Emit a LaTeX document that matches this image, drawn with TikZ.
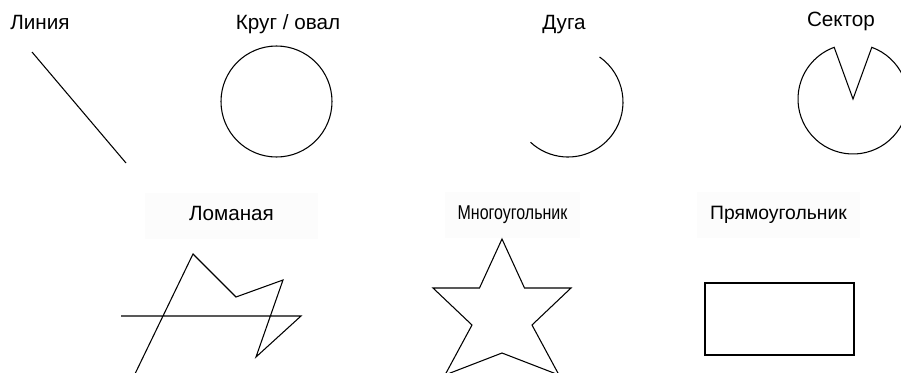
\documentclass[tikz,border=0pt]{standalone}
\usepackage{fontspec}
\setmainfont{Liberation Sans}
\newfontfamily\narrowfont[FakeStretch=0.8]{Liberation Sans}

\begin{document}
\begin{tikzpicture}[x=0.75pt, y=-0.75pt, line width=0.8pt,
	every node/.style={font=\fontsize{15.5}{18}\selectfont, text height=0.72em, text depth=0pt, inner sep=0pt},
	labelbox/.style={fill=black!1, minimum height=35pt}]
	\useasboundingbox (0,0) rectangle (901,372);
	\clip (0,0) rectangle (901,372);
	% top row
	\node (liniya) at (40,24.5) {Линия};
	\node (krug) at (288,24.5) {Круг / овал};
	\node (duga) at (564,24.5) {Дуга};
	\node (sektor) at (841,22) {Сектор};
	\draw (32,52) -- (126,163);
	\draw (276.5,101.5) circle [radius=55.5];
	\draw (568,102) ++(-55:55) arc [start angle=-55, end angle=133, radius=55];
	\draw (853,99) -- ++(-70:55) arc [start angle=-70, end angle=250, radius=55] -- cycle;
	% bottom row
	\node[labelbox, minimum width=130pt] (lomanaya) at (231.5,216) {Ломаная};
	\node[labelbox, minimum width=101pt, font=\narrowfont\fontsize{15}{18}\selectfont] (mnogougolnik) at (512.5,215) {Многоугольник};
	\node[labelbox, minimum width=122pt, font=\fontsize{14.5}{18}\selectfont] (pryamougolnik) at (778.5,215) {Прямоугольник};
	\draw (121,316) -- (301,316) -- (256,357) -- (283,280) -- (236,297) -- (193,254) -- (133,378);
	\draw (502,239) -- (524.5,288) -- (571,288) -- (532,325) -- (559,375) -- (502,353)
		-- (445,375) -- (472,325) -- (433,288) -- (479.5,288) -- cycle;
	\draw (705,283) rectangle (854,355);
\end{tikzpicture}
\end{document}
